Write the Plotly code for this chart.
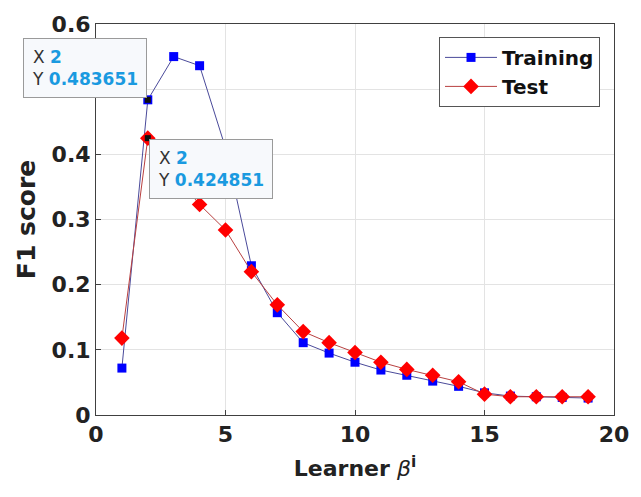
import plotly.graph_objects as go

learners = list(range(1, 20))
training = [0.072, 0.483651, 0.550, 0.536, 0.410, 0.229, 0.157, 0.111, 0.095, 0.081,
            0.069, 0.061, 0.052, 0.044, 0.034, 0.029, 0.028, 0.027, 0.026]
test = [0.118, 0.424851, 0.370, 0.323, 0.284, 0.220, 0.169, 0.128, 0.111, 0.096,
        0.081, 0.070, 0.061, 0.051, 0.032, 0.028, 0.028, 0.028, 0.028]
x_ticks = [0, 5, 10, 15, 20]
y_ticks = [0, 0.1, 0.2, 0.3, 0.4, 0.5, 0.6]
tip_idx = 1

fig = go.Figure()
fig.add_trace(go.Scatter(
    x=learners, y=training, name="<b>Training</b>", mode="lines+markers",
    line=dict(color="#4a4a9a", width=1),
    marker=dict(symbol="square", size=9, color="#0000ff"),
))
fig.add_trace(go.Scatter(
    x=learners, y=test, name="<b>Test</b>", mode="lines+markers",
    line=dict(color="#b84040", width=1),
    marker=dict(symbol="diamond", size=12, color="#ff0000"),
))
# datatip markers
fig.add_trace(go.Scatter(
    x=[learners[tip_idx], learners[tip_idx]], y=[training[tip_idx], test[tip_idx]],
    mode="markers", showlegend=False, hoverinfo="skip",
    marker=dict(symbol="square", size=6, color="#111111"),
))

def tip(xv, yv):
    return ("<span style='color:#333333'>X</span> <b style='color:#1a9ae0'>%g</b><br>"
            "<span style='color:#333333'>Y</span> <b style='color:#1a9ae0'>%s</b>") % (xv, ("%.6f" % yv))

tip_style = dict(showarrow=False, align="left", bgcolor="#f7f9fc", bordercolor="#9a9a9a",
                 borderwidth=1, borderpad=8, font=dict(family="DejaVu Sans", size=17))
fig.add_annotation(x=learners[tip_idx], y=training[tip_idx], text=tip(learners[tip_idx], training[tip_idx]),
                   xanchor="right", yanchor="bottom", xshift=-1, yshift=2, **tip_style)
fig.add_annotation(x=learners[tip_idx], y=test[tip_idx], text=tip(learners[tip_idx], test[tip_idx]),
                   xanchor="left", yanchor="top", xshift=1, yshift=-1, **tip_style)

axis_common = dict(showline=True, linecolor="#404040", linewidth=1, mirror=True,
                   showgrid=True, gridcolor="#e3e3e3", gridwidth=1, zeroline=False,
                   ticks="inside", ticklen=5, tickcolor="#404040",
                   tickfont=dict(family="DejaVu Sans", size=22, color="#222222"))

fig.update_layout(
    width=641, height=497,
    margin=dict(l=96, r=19, t=22, b=82),
    paper_bgcolor="white", plot_bgcolor="white",
    font=dict(family="DejaVu Sans", color="#222222"),
    xaxis=dict(range=[0, 20], tickvals=x_ticks, ticktext=[f"<b>{v}</b>" for v in x_ticks],
               title=dict(text="<b>Learner</b> <i>β</i><sup><b>i</b></sup>", font=dict(size=22), standoff=14),
               **axis_common),
    yaxis=dict(range=[0, 0.6], tickvals=y_ticks, ticktext=[f"<b>{v:g}</b>" for v in y_ticks],
               title=dict(text="<b>F1 score</b>", font=dict(size=25), standoff=8),
               **axis_common),
    legend=dict(x=0.973, y=0.967, xanchor="right", yanchor="top",
                bgcolor="white", bordercolor="#555555", borderwidth=1,
                font=dict(family="DejaVu Sans", size=20, color="#111111"),
                tracegroupgap=0, itemwidth=52),
    showlegend=True,
)

fig.write_html("out.html")
